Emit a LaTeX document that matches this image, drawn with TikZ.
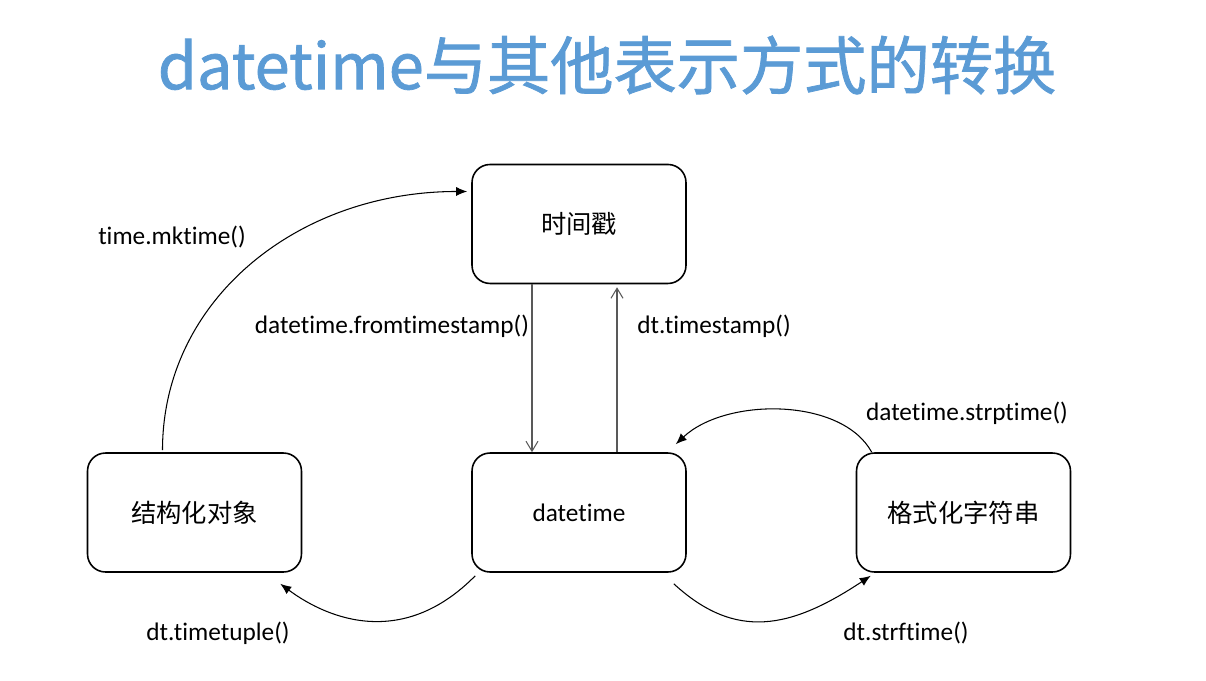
\documentclass[tikz,border=0pt]{standalone}
\usepackage{fontspec}
\setmainfont{Carlito}[Ligatures=NoCommon]
\newfontfamily\cjk{Noto Sans CJK SC}
\newfontfamily\titlefont{Noto Sans CJK SC}[FakeBold=1.2]
\usetikzlibrary{arrows.meta,positioning,calc}
\definecolor{titleblue}{RGB}{91,155,213}
\tikzset{
  box/.style={draw,rounded corners=0.36cm,minimum width=4.28cm,minimum height=2.38cm,line width=0.9pt,align=center,font=\fontsize{14.4}{17}\selectfont},
  lbl/.style={font=\fontsize{14.4}{17}\selectfont,inner sep=0pt},
  ttl/.style={font=\titlefont\fontsize{36}{40}\selectfont,text=titleblue,inner sep=0pt},
  varr/.style={-{Straight Barb[length=2mm,width=2.4mm]},line width=0.6pt,black!65},
  carr/.style={-{Latex[length=2.2mm,width=1.8mm]},line width=0.6pt}
}

\begin{document}
\begin{tikzpicture}[x=0.02cm,y=-0.02cm,node distance=3.36cm and 3.38cm]
  \useasboundingbox (0,0) rectangle (1206,680);

  \node[ttl] (title) at (607,65) {datetime与其他表示方式的转换};

  \node[box] (dt) at (579,512.5) {datetime};
  \node[box, above=of dt] (ts) {\cjk 时间戳};
  \node[box, left=of dt] (obj) {\cjk 结构化对象};
  \node[box, right=of dt] (fmt) {\cjk 格式化字符串};

  \node[lbl] (mk) at (172,237) {time.mktime()};
  \node[lbl] (fromts) at (392,326) {datetime.fromtimestamp()};
  \node[lbl] (tots) at (714,326) {dt.timestamp()};
  \node[lbl] (strp) at (967,413) {datetime.strptime()};
  \node[lbl] (tup) at (218,633) {dt.timetuple()};
  \node[lbl] (strf) at (906,633) {dt.strftime()};

  \draw[varr] ($(ts.south)+(-47,0)$) -- ($(dt.north)+(-47,0)$);
  \draw[varr] ($(dt.north)+(38,0)$) -- ($(ts.south)+(38,3)$);
  \draw[carr] ($(obj.north)+(-32,-2)$) .. controls +(0,-150) and +(-170,0) .. ($(ts.west)+(-4,-32.5)$);
  \draw[carr] ($(fmt.north west)+(16,0)$) .. controls +(-30,-55) and +(50,-47) .. ($(dt.north east)+(-11,-8)$);
  \draw[carr] ($(dt.south west)+(4,3)$) .. controls +(-71,72) and +(50,37) .. ($(obj.south east)+(-22,11)$);
  \draw[carr] ($(dt.south east)+(-13,11)$) .. controls +(62,57) and +(-80,53) .. ($(fmt.south west)+(15,3)$);
\end{tikzpicture}
\end{document}
